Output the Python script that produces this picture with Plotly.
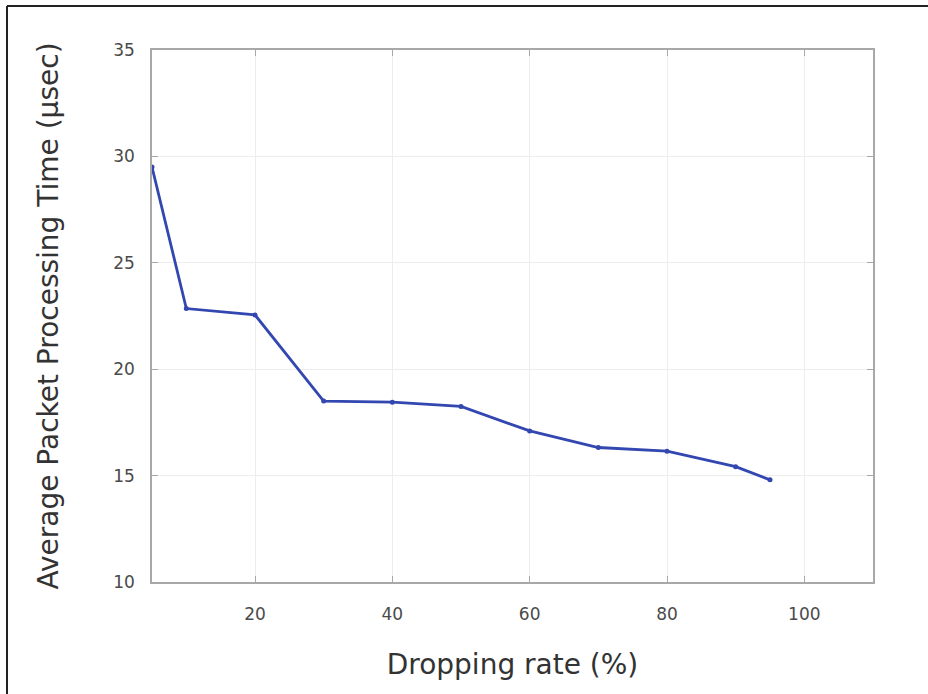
import plotly.graph_objects as go

dropping_rate = [5, 10, 20, 30, 40, 50, 60, 70, 80, 90, 95]
avg_time = [29.5, 22.85, 22.55, 18.5, 18.45, 18.25, 17.1, 16.32, 16.15, 15.42, 14.8]
x_ticks = [20, 40, 60, 80, 100]
y_ticks = [10, 15, 20, 25, 30, 35]

fig = go.Figure()
fig.add_trace(go.Scatter(
    x=dropping_rate, y=avg_time, mode="lines+markers",
    line=dict(color="#3347b0", width=2.8),
    marker=dict(color="#3347b0", size=5),
    showlegend=False,
))

axis_common = dict(
    showline=True, linecolor="#a8a8a8", linewidth=1.5, mirror="ticks",
    ticks="inside", ticklen=6, tickcolor="#a8a8a8", tickwidth=1,
    showgrid=True, gridcolor="#ededed", gridwidth=1, zeroline=False,
    tickfont=dict(family="DejaVu Sans", size=17, color="#4a4a4a"),
)

title_font = dict(family="DejaVu Sans", size=28, color="#333333")

fig.update_layout(
    width=928, height=694,
    margin=dict(l=152, r=55, t=50, b=112),
    paper_bgcolor="white", plot_bgcolor="white",
    xaxis=dict(range=[5, 110], tickvals=x_ticks, ticklabelstandoff=16,
               title=dict(text="Dropping rate (%)", standoff=31, font=title_font),
               **axis_common),
    yaxis=dict(range=[10, 35], tickvals=y_ticks, ticklabelstandoff=12,
               title=dict(text="Average Packet Processing Time (µsec)", standoff=46,
                          font=title_font),
               **axis_common),
    shapes=[
        dict(type="line", xref="paper", yref="paper",
             x0=(7 - 152) / 721, x1=(928 - 152) / 721,
             y0=1 + 44 / 532, y1=1 + 44 / 532,
             line=dict(color="#222222", width=2)),
        dict(type="line", xref="paper", yref="paper",
             x0=(7 - 152) / 721, x1=(7 - 152) / 721,
             y0=1 + 44 / 532, y1=-112 / 532,
             line=dict(color="#222222", width=2)),
    ],
)

fig.write_html("out.html")
